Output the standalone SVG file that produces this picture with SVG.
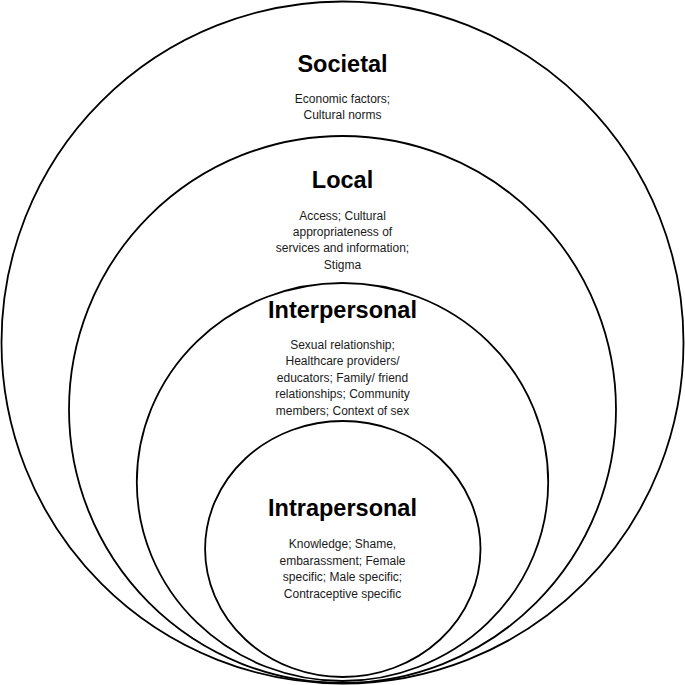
<svg xmlns="http://www.w3.org/2000/svg" width="685" height="685" viewBox="0 0 685 685">
  <style>
    .ring { fill: none; stroke: #000; stroke-width: 1.8; }
    .title { font-family: "Liberation Sans", Arial, sans-serif; font-weight: bold; font-size: 23.5px; text-anchor: middle; fill: #000; }
    .body { font-family: "Liberation Sans", Arial, sans-serif; font-size: 12px; text-anchor: middle; fill: #1a1a1a; }
  </style>
  <rect width="685" height="685" fill="#fff"/>
  <g id="societal">
    <ellipse class="ring" cx="342.5" cy="342.5" rx="341" ry="341"/>
    <text class="title" x="342.5" y="72">Societal</text>
    <text class="body" x="342.5" y="102.5">Economic factors;</text>
    <text class="body" x="342.5" y="119">Cultural norms</text>
  </g>
  <g id="local">
    <ellipse class="ring" cx="342.5" cy="409.5" rx="273.5" ry="273.5"/>
    <text class="title" x="342.5" y="188">Local</text>
    <text class="body" x="342.5" y="219.5">Access; Cultural</text>
    <text class="body" x="342.5" y="236">appropriateness of</text>
    <text class="body" x="342.5" y="252">services and information;</text>
    <text class="body" x="342.5" y="268.5">Stigma</text>
  </g>
  <g id="interpersonal">
    <ellipse class="ring" cx="342.5" cy="482" rx="205.7" ry="199"/>
    <text class="title" x="342.5" y="317.5">Interpersonal</text>
    <text class="body" x="342.5" y="348.5">Sexual relationship;</text>
    <text class="body" x="342.5" y="365">Healthcare providers/</text>
    <text class="body" x="342.5" y="381.5">educators; Family/ friend</text>
    <text class="body" x="342.5" y="398">relationships; Community</text>
    <text class="body" x="342.5" y="414.5">members; Context of sex</text>
  </g>
  <g id="intrapersonal">
    <ellipse class="ring" cx="342.8" cy="549" rx="137.7" ry="128"/>
    <text class="title" x="342.5" y="516">Intrapersonal</text>
    <text class="body" x="342.5" y="548">Knowledge; Shame,</text>
    <text class="body" x="342.5" y="564.5">embarassment; Female</text>
    <text class="body" x="342.5" y="581">specific; Male specific;</text>
    <text class="body" x="342.5" y="597.5">Contraceptive specific</text>
  </g>
  <g id="connectors"/>
</svg>
